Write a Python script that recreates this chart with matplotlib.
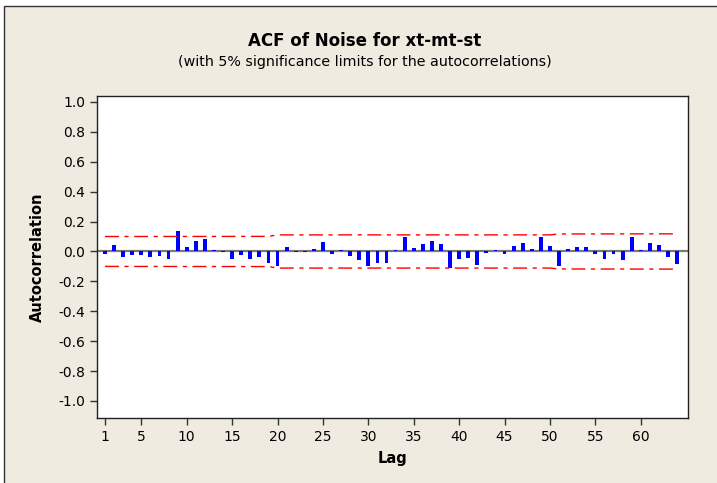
import numpy as np
import matplotlib
matplotlib.use('Agg')
import matplotlib.pyplot as plt
from matplotlib.patches import Rectangle

# Valores (ACF por lag)
lags = np.arange(1, 65)
acf = [-0.016, 0.040, -0.040, -0.022, -0.022, -0.040, -0.033, -0.050, 0.134, 0.027,
       0.067, 0.083, 0.007, -0.005, -0.050, -0.022, -0.050, -0.040, -0.078, -0.096,
       0.033, -0.005, -0.005, 0.014, 0.064, -0.014, 0.007, -0.030, -0.057, -0.098,
       -0.078, -0.078, 0.007, 0.094, 0.026, 0.048, 0.072, 0.050, -0.108, -0.052,
       -0.041, -0.090, -0.012, 0.012, -0.014, 0.035, 0.057, 0.018, 0.094, 0.038,
       -0.100, 0.014, 0.028, 0.028, -0.015, -0.050, -0.015, -0.057, 0.100, 0.010,
       0.056, 0.040, -0.040, -0.085]

# Limites de significancia del 5% (puntos de quiebre)
lim_lags = [1, 19, 20, 50, 51, 64]
lim_vals = [0.100, 0.101, 0.111, 0.111, 0.117, 0.118]

xticks = [1, 5, 10, 15, 20, 25, 30, 35, 40, 45, 50, 55, 60]
yticks = [-1.0, -0.8, -0.6, -0.4, -0.2, 0.0, 0.2, 0.4, 0.6, 0.8, 1.0]

BEIGE = '#efebe1'
BLUE = '#0000ff'
RED = '#ff0000'

plt.rcParams.update({'font.family': 'DejaVu Sans'})

fig = plt.figure(figsize=(7.17, 4.83), dpi=100)
fig.patch.set_facecolor('white')

# Marco beige con borde oscuro
fig.patches.append(Rectangle((4 / 717, -0.1), 1.2, (483 - 6) / 483 + 0.1,
                             transform=fig.transFigure, facecolor=BEIGE,
                             edgecolor='#333333', lw=1.0, zorder=-10))

ax = fig.add_axes([97 / 717, (483 - 418) / 483, (688 - 97) / 717, (418 - 96) / 483])
ax.set_zorder(5)
ax.set_facecolor('white')

ax.axhline(0, color='#7a7a7a', lw=1.6, zorder=1)
ax.bar(lags, acf, width=0.42, color=BLUE, zorder=2)

ax.plot(lim_lags, lim_vals, color=RED, lw=1.0, dashes=(10, 4, 3, 4), zorder=3)
ax.plot(lim_lags, [-v for v in lim_vals], color=RED, lw=1.0, dashes=(10, 4, 3, 4), zorder=3)

ax.set_xlim(0.12, 65.2)
ax.set_ylim(-1.114, 1.04)
ax.set_xticks(xticks)
ax.set_yticks(yticks)
ax.set_yticklabels([f'{v:.1f}' for v in yticks])
ax.tick_params(labelsize=10, length=5, width=1, color='#333333')
for s in ax.spines.values():
    s.set_color('#222222')
    s.set_linewidth(1.0)

ax.set_xlabel('Lag', fontsize=10.5, fontweight='bold', labelpad=5)
ax.set_ylabel('Autocorrelation', fontsize=10.5, fontweight='bold', labelpad=10)

fig.text(365 / 717, 1 - 41 / 483, 'ACF of Noise for xt-mt-st', ha='center', va='center',
         fontsize=12, fontweight='bold')
fig.text(365 / 717, 1 - 62 / 483, '(with 5% significance limits for the autocorrelations)',
         ha='center', va='center', fontsize=10.3)

fig.savefig('out.png', dpi=100, facecolor=fig.get_facecolor())
